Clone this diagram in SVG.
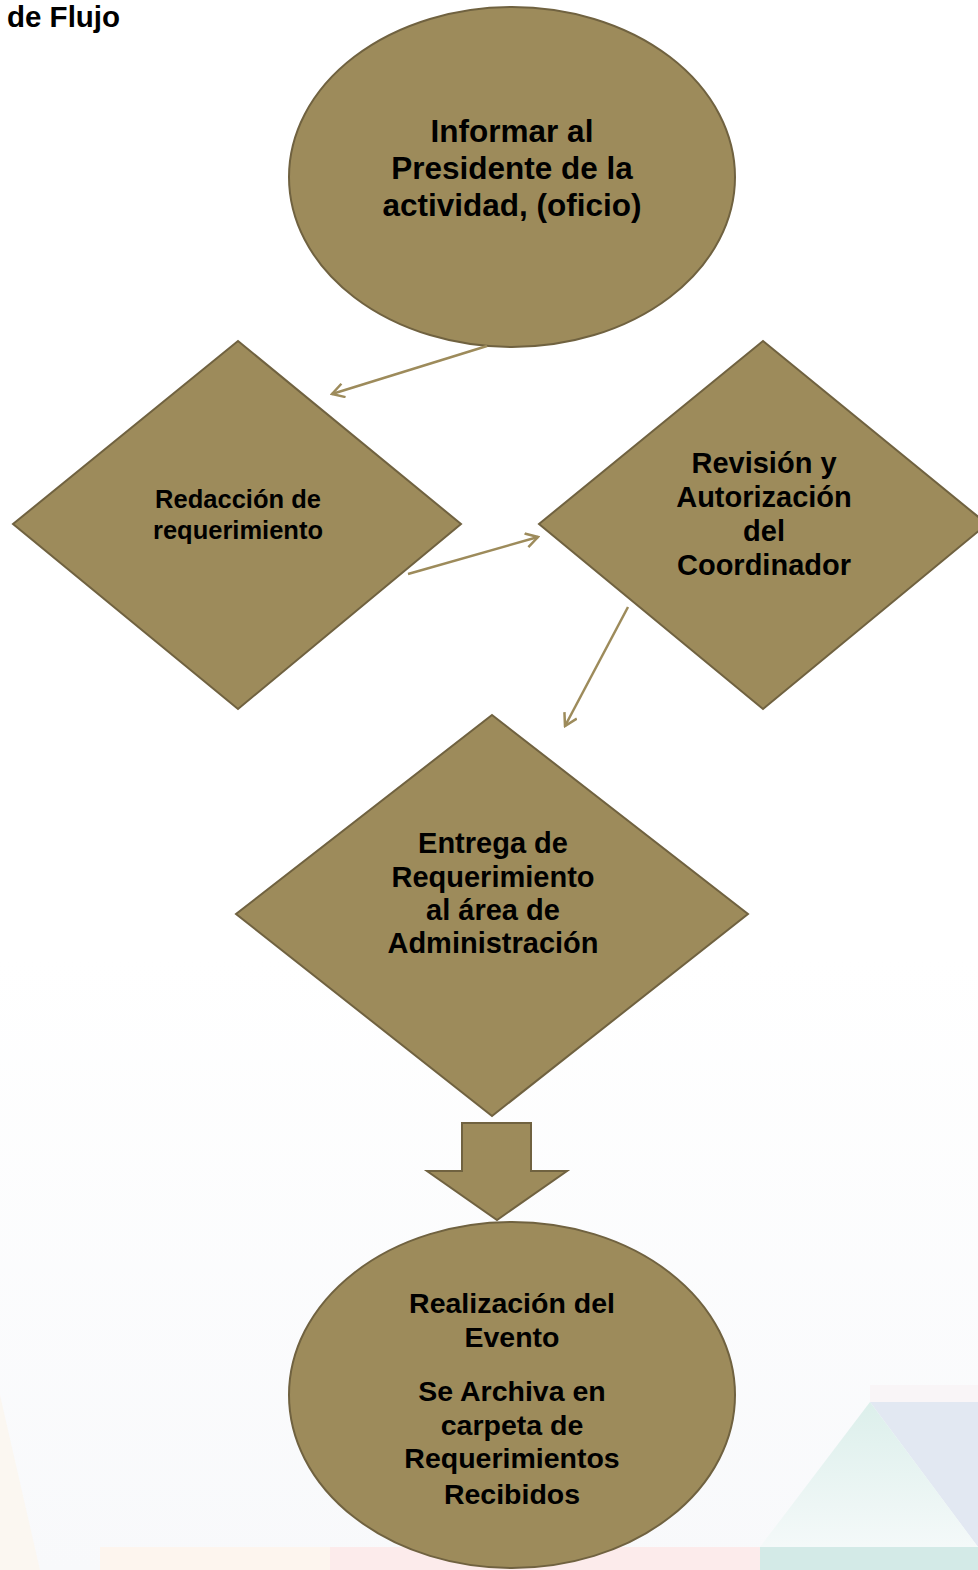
<svg xmlns="http://www.w3.org/2000/svg" width="978" height="1570" viewBox="0 0 978 1570">
<style>
.shape{fill:#9d8b5b;stroke:#706240;stroke-width:2}
.t{font-family:"Liberation Sans",Arial,sans-serif;font-weight:bold;fill:#000;text-anchor:middle}
.conn{fill:none;stroke:#9d8b5b;stroke-width:2.5}
</style>
<defs>
<marker id="open" viewBox="0 0 16 16" refX="14" refY="8" markerWidth="16" markerHeight="16" markerUnits="userSpaceOnUse" orient="auto">
<path d="M2,1 L14,8 L2,15" fill="none" stroke="#9d8b5b" stroke-width="2.5"/>
</marker>
<linearGradient id="gTeal" x1="0" y1="0" x2="0" y2="1">
<stop offset="0" stop-color="#dcefeb"/><stop offset="1" stop-color="#f4f9f9"/>
</linearGradient>
<linearGradient id="gBg" x1="0" y1="0" x2="0" y2="1">
<stop offset="0" stop-color="#ffffff"/><stop offset="1" stop-color="#f8f9fb"/>
</linearGradient>
</defs>
<rect x="0" y="0" width="978" height="1570" fill="#ffffff"/>
<g id="background">
<rect x="0" y="960" width="978" height="610" fill="url(#gBg)"/>
<polygon points="0,1395 40,1570 0,1570" fill="#fbf7f1"/>
<polygon points="870,1402 978,1402 978,1547" fill="#e2e8f2"/>
<polygon points="870,1402 760,1547 978,1547" fill="url(#gTeal)"/>
<rect x="870" y="1385" width="108" height="17" fill="#f9f5f7"/>
<rect x="100" y="1547" width="230" height="23" fill="#fdf5ee"/>
<rect x="330" y="1547" width="430" height="23" fill="#fcebeb"/>
<rect x="760" y="1547" width="218" height="23" fill="#d3eae7"/>
</g>
<text class="t" x="7" y="27" style="text-anchor:start" font-size="29.5">de Flujo</text>
<g id="n1">
<ellipse class="shape" cx="512" cy="177" rx="223" ry="170"/>
<text class="t" font-size="31.5"><tspan x="512" y="142">Informar al</tspan><tspan x="512" y="179">Presidente de la</tspan><tspan x="512" y="216">actividad, (oficio)</tspan></text>
</g>
<g id="n2">
<polygon class="shape" points="238,341 461,524 238,709 13,524"/>
<text class="t" font-size="25.5"><tspan x="238" y="508">Redacción de</tspan><tspan x="238" y="539">requerimiento</tspan></text>
</g>
<g id="n3">
<polygon class="shape" points="763,341 987,524 763,709 539,524"/>
<text class="t" font-size="29"><tspan x="764" y="473">Revisión y</tspan><tspan x="764" y="507">Autorización</tspan><tspan x="764" y="541">del</tspan><tspan x="764" y="575">Coordinador</tspan></text>
</g>
<g id="n4">
<polygon class="shape" points="492,715 748,914 492,1116 236,914"/>
<text class="t" font-size="29"><tspan x="493" y="853">Entrega de</tspan><tspan x="493" y="887">Requerimiento</tspan><tspan x="493" y="920">al área de</tspan><tspan x="493" y="953">Administración</tspan></text>
</g>
<g id="n5">
<polygon class="shape" points="462,1123 531,1123 531,1171 567,1171 497,1220 427,1171 462,1171"/>
</g>
<g id="n6">
<ellipse class="shape" cx="512" cy="1395" rx="223" ry="173"/>
<text class="t" font-size="28.5"><tspan x="512" y="1313">Realización del</tspan><tspan x="512" y="1347">Evento</tspan><tspan x="512" y="1401">Se Archiva en</tspan><tspan x="512" y="1435">carpeta de</tspan><tspan x="512" y="1468">Requerimientos</tspan><tspan x="512" y="1504">Recibidos</tspan></text>
</g>
<g id="connectors">
<line class="conn" x1="487" y1="346" x2="332" y2="394" marker-end="url(#open)"/>
<line class="conn" x1="408" y1="574" x2="538" y2="537" marker-end="url(#open)"/>
<line class="conn" x1="628" y1="607" x2="565" y2="726" marker-end="url(#open)"/>
</g>
</svg>
